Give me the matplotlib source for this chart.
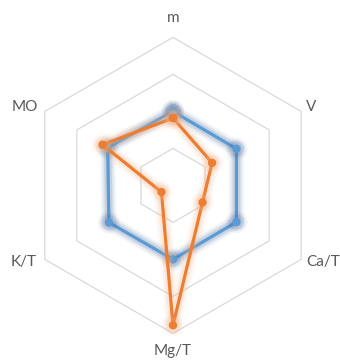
import numpy as np
import matplotlib
matplotlib.use('Agg')
import matplotlib.pyplot as plt
import matplotlib.patheffects as pe

# axes of the radar, clockwise from the top
labels = ['m', 'V', 'Ca/T', 'Mg/T', 'K/T', 'MO']
blue_vals = [1.0, 0.99, 0.99, 1.0, 1.0, 1.02]
orange_vals = [0.91, 0.61, 0.46, 1.89, 0.18, 1.1]
grid_levels = [0.5, 1.0, 1.5, 2.0]

plt.rcParams['font.family'] = ['Lato', 'DejaVu Sans']

fig = plt.figure(figsize=(3.4, 3.6), dpi=100)
ax = fig.add_axes([0, 0, 1, 1])
ax.set_axis_off()

# pixel scale: centre at (173, 185.4) from top-left, 74 px per unit
ppu = 74.0
cx, cy = 173.0, 360 - 185.4
ax.set_xlim(-cx / ppu, (340 - cx) / ppu)
ax.set_ylim(-cy / ppu, (360 - cy) / ppu)

ang = np.deg2rad(90 - 60 * np.arange(len(labels)))

def xy(vals):
    v = np.asarray(vals, dtype=float)
    x = v * np.cos(ang)
    y = v * np.sin(ang)
    return np.append(x, x[0]), np.append(y, y[0])

# hexagonal gridlines only (no spokes)
for lev in grid_levels:
    gx, gy = xy([lev] * len(labels))
    ax.plot(gx, gy, color='#d9d9d9', lw=0.9, zorder=1)

def glow(color):
    return [pe.Stroke(linewidth=11, foreground=color, alpha=0.07),
            pe.Stroke(linewidth=8, foreground=color, alpha=0.11),
            pe.Stroke(linewidth=5.5, foreground=color, alpha=0.16),
            pe.Normal()]

bx, by = xy(blue_vals)
ax.plot(bx, by, color='#5b9bd5', lw=2.3, marker='o', ms=5, zorder=3,
        path_effects=glow('#4e6f9e'))
ox, oy = xy(orange_vals)
ax.plot(ox, oy, color='#ed7d31', lw=2.3, marker='o', ms=5, zorder=4,
        path_effects=glow('#f4b183'))

# category labels, offset from outer vertices in pixels
offsets = [(0, 19), (5, 4), (5, -3), (0, -18), (-8, -3), (-7, 4)]
aligns = ['center', 'left', 'left', 'center', 'right', 'right']
for i, lab in enumerate(labels):
    ax.annotate(lab, (2.0 * np.cos(ang[i]), 2.0 * np.sin(ang[i])),
                textcoords='offset pixels', xytext=offsets[i],
                ha=aligns[i], va='center', fontsize=11, color='#595959')

fig.savefig('out.png', dpi=100)
